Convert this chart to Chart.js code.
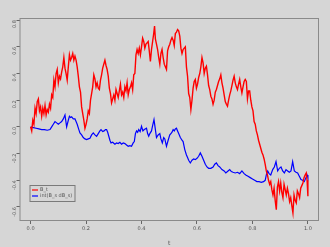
<!DOCTYPE html>
<html>
<head>
<meta charset="utf-8">
<script src="https://cdn.jsdelivr.net/npm/chart.js@4.4.1/dist/chart.umd.min.js"></script>
<style>
  html, body { margin: 0; padding: 0; background: #d6d6d6; }
  #wrap { width: 330px; height: 247px; }
</style>
</head>
<body>
<div id="wrap"><canvas id="chart" width="330" height="247"></canvas></div>
<script>
// B_t
const tRed = [0,0.004,0.008,0.012,0.016,0.02,0.024,0.028,0.032,0.036,0.04,0.044,0.048,0.052,0.056,0.06,0.064,0.068,0.072,0.076,0.08,0.084,0.088,0.092,0.096,0.1,0.104,0.108,0.112,0.116,0.12,0.124,0.128,0.132,0.136,0.14,0.144,0.148,0.152,0.156,0.16,0.164,0.168,0.172,0.176,0.18,0.184,0.188,0.192,0.196,0.2,0.204,0.208,0.212,0.216,0.22,0.224,0.228,0.232,0.236,0.24,0.244,0.248,0.252,0.256,0.26,0.264,0.268,0.272,0.276,0.28,0.284,0.288,0.292,0.296,0.3,0.304,0.308,0.312,0.316,0.32,0.324,0.328,0.332,0.336,0.34,0.344,0.348,0.352,0.356,0.36,0.364,0.368,0.372,0.376,0.38,0.384,0.388,0.392,0.396,0.4,0.404,0.408,0.412,0.416,0.42,0.424,0.428,0.432,0.436,0.44,0.444,0.447,0.45,0.454,0.458,0.462,0.466,0.47,0.474,0.478,0.482,0.486,0.49,0.494,0.498,0.502,0.506,0.51,0.514,0.518,0.522,0.526,0.53,0.534,0.538,0.542,0.546,0.55,0.554,0.558,0.562,0.566,0.57,0.574,0.578,0.582,0.586,0.59,0.594,0.598,0.602,0.606,0.61,0.614,0.618,0.622,0.626,0.63,0.634,0.638,0.642,0.646,0.65,0.654,0.658,0.662,0.666,0.67,0.674,0.678,0.682,0.686,0.69,0.694,0.698,0.702,0.706,0.71,0.714,0.718,0.722,0.726,0.73,0.734,0.738,0.742,0.746,0.75,0.754,0.758,0.762,0.766,0.77,0.774,0.778,0.782,0.786,0.79,0.794,0.798,0.802,0.806,0.81,0.814,0.818,0.822,0.826,0.83,0.834,0.838,0.842,0.846,0.85,0.854,0.858,0.862,0.866,0.87,0.874,0.878,0.882,0.886,0.89,0.894,0.898,0.902,0.906,0.91,0.914,0.918,0.922,0.926,0.93,0.934,0.938,0.942,0.946,0.95,0.954,0.958,0.962,0.966,0.97,0.974,0.978,0.982,0.986,0.99,0.994,0.997,1];
const bRed = [0,-0.03,0.05,0.02,0.14,0.1,0.19,0.21,0.12,0.15,0.08,0.14,0.1,0.16,0.09,0.13,0.11,0.17,0.14,0.24,0.22,0.35,0.3,0.4,0.43,0.33,0.38,0.36,0.41,0.45,0.52,0.44,0.4,0.35,0.45,0.54,0.5,0.52,0.55,0.5,0.53,0.5,0.45,0.38,0.3,0.26,0.15,0.1,0.05,-0.01,0.02,0.06,0.12,0.1,0.2,0.25,0.3,0.39,0.36,0.3,0.33,0.29,0.28,0.35,0.39,0.44,0.47,0.5,0.46,0.43,0.38,0.29,0.25,0.18,0.21,0.24,0.2,0.28,0.25,0.22,0.27,0.32,0.24,0.26,0.22,0.3,0.27,0.33,0.24,0.28,0.3,0.33,0.28,0.39,0.4,0.54,0.58,0.55,0.59,0.54,0.6,0.665,0.64,0.59,0.62,0.63,0.64,0.57,0.49,0.58,0.64,0.7,0.755,0.66,0.62,0.58,0.52,0.47,0.55,0.58,0.52,0.47,0.45,0.43,0.57,0.6,0.62,0.65,0.67,0.65,0.61,0.7,0.71,0.73,0.72,0.68,0.59,0.55,0.58,0.59,0.6,0.45,0.38,0.25,0.22,0.13,0.2,0.29,0.34,0.355,0.29,0.32,0.37,0.4,0.45,0.52,0.48,0.4,0.44,0.455,0.39,0.31,0.28,0.23,0.21,0.17,0.2,0.26,0.28,0.31,0.34,0.36,0.39,0.33,0.29,0.24,0.19,0.17,0.155,0.2,0.24,0.27,0.31,0.35,0.38,0.33,0.3,0.28,0.32,0.355,0.3,0.255,0.3,0.34,0.355,0.34,0.21,0.27,0.27,0.2,0.15,0.12,0.04,0.02,-0.03,-0.06,-0.1,-0.13,-0.16,-0.19,-0.21,-0.24,-0.28,-0.33,-0.36,-0.4,-0.43,-0.41,-0.47,-0.51,-0.46,-0.55,-0.62,-0.45,-0.41,-0.48,-0.42,-0.49,-0.53,-0.43,-0.47,-0.51,-0.46,-0.5,-0.56,-0.53,-0.59,-0.645,-0.51,-0.55,-0.57,-0.48,-0.5,-0.53,-0.46,-0.44,-0.42,-0.38,-0.36,-0.345,-0.4,-0.52];

// int(B_s dB_s)
const tBlue = [0,0.01,0.02,0.03,0.04,0.05,0.06,0.07,0.076,0.082,0.088,0.094,0.1,0.106,0.112,0.118,0.124,0.13,0.136,0.14,0.144,0.148,0.154,0.16,0.164,0.168,0.174,0.178,0.184,0.19,0.196,0.202,0.208,0.214,0.22,0.226,0.232,0.238,0.244,0.25,0.254,0.26,0.265,0.27,0.274,0.278,0.282,0.286,0.29,0.296,0.304,0.31,0.316,0.322,0.328,0.334,0.34,0.346,0.352,0.358,0.364,0.37,0.374,0.378,0.382,0.386,0.39,0.395,0.4,0.405,0.41,0.418,0.422,0.426,0.43,0.436,0.44,0.445,0.45,0.454,0.46,0.466,0.47,0.475,0.48,0.484,0.49,0.496,0.502,0.506,0.51,0.514,0.518,0.522,0.526,0.53,0.534,0.54,0.546,0.55,0.556,0.562,0.566,0.57,0.576,0.582,0.588,0.594,0.6,0.606,0.612,0.618,0.624,0.63,0.636,0.642,0.65,0.658,0.664,0.67,0.676,0.682,0.69,0.698,0.704,0.712,0.718,0.724,0.73,0.738,0.746,0.754,0.762,0.77,0.776,0.784,0.792,0.8,0.808,0.816,0.824,0.832,0.84,0.846,0.85,0.855,0.86,0.866,0.873,0.879,0.885,0.891,0.897,0.903,0.909,0.915,0.921,0.927,0.933,0.939,0.945,0.951,0.957,0.963,0.969,0.975,0.981,0.987,0.993,0.997,1];
const iBlue = [0,-0.005,-0.01,-0.015,-0.02,-0.02,-0.025,-0.02,0,0.02,0.04,0.03,0.02,0.03,0.04,0.06,0.09,0,0.05,0.08,0.07,0.075,0.06,0.06,0.04,0.02,-0.02,-0.045,-0.06,-0.08,-0.09,-0.095,-0.09,-0.085,-0.06,-0.045,-0.06,-0.07,-0.05,-0.03,-0.02,-0.035,-0.03,-0.02,-0.02,-0.04,-0.07,-0.1,-0.12,-0.115,-0.13,-0.12,-0.125,-0.115,-0.13,-0.12,-0.125,-0.135,-0.145,-0.14,-0.145,-0.12,-0.11,-0.05,-0.03,-0.04,-0.02,-0.035,0.005,-0.03,-0.02,-0.01,-0.05,-0.07,-0.05,-0.03,0.01,0.055,-0.02,-0.08,-0.06,-0.05,-0.09,-0.12,-0.08,-0.09,-0.145,-0.1,-0.06,-0.05,-0.04,-0.02,-0.03,-0.015,-0.01,-0.03,-0.05,-0.08,-0.1,-0.11,-0.17,-0.21,-0.23,-0.25,-0.27,-0.25,-0.24,-0.245,-0.235,-0.22,-0.195,-0.22,-0.25,-0.28,-0.3,-0.31,-0.31,-0.3,-0.28,-0.27,-0.29,-0.3,-0.32,-0.33,-0.345,-0.33,-0.32,-0.335,-0.34,-0.345,-0.34,-0.35,-0.33,-0.35,-0.36,-0.37,-0.38,-0.39,-0.4,-0.41,-0.41,-0.415,-0.41,-0.4,-0.36,-0.33,-0.35,-0.36,-0.32,-0.3,-0.26,-0.33,-0.31,-0.3,-0.33,-0.345,-0.32,-0.33,-0.34,-0.33,-0.26,-0.33,-0.34,-0.345,-0.37,-0.395,-0.4,-0.41,-0.38,-0.36,-0.38];

const xTicks = [0, 0.2, 0.4, 0.6, 0.8, 1.0];
const yTicks = [-0.6, -0.4, -0.2, 0.0, 0.2, 0.4, 0.6, 0.8];
const seriesNames = ["B_t", "int(B_s dB_s)"];
const seriesColors = ["#ff0000", "#0000ff"];

const toPoints = (ts, vs) => ts.map((t, i) => ({ x: t, y: vs[i] }));

// box around the plot region and the legend inside it
const framePlugin = {
    id: 'frame',
    afterDatasetsDraw(chart) {
        const ctx = chart.ctx;
        const a = chart.chartArea;
        ctx.save();
        ctx.strokeStyle = '#8a8a8a';
        ctx.lineWidth = 1;
        ctx.strokeRect(a.left + 0.5, a.top + 0.5, a.right - a.left - 1, a.bottom - a.top - 1);

        // legend
        const lx = a.left + 10.5, ly = a.bottom - 35.5;
        ctx.fillStyle = '#d6d6d6';
        ctx.fillRect(lx, ly, 45, 16);
        ctx.strokeStyle = '#7a7a7a';
        ctx.strokeRect(lx, ly, 45, 16);
        ctx.font = '5px "DejaVu Sans"';
        ctx.textBaseline = 'middle';
        seriesNames.forEach((name, i) => {
            const yy = ly + 4.5 + i * 6;
            ctx.strokeStyle = seriesColors[i];
            ctx.lineWidth = 1.2;
            ctx.beginPath();
            ctx.moveTo(lx + 2, yy);
            ctx.lineTo(lx + 8, yy);
            ctx.stroke();
            ctx.fillStyle = '#555';
            ctx.fillText(name, lx + 10, yy);
        });
        ctx.restore();
    }
};

new Chart(document.getElementById("chart"), {
    type: 'line',
    data: {
        datasets: [{
            label: seriesNames[0],
            data: toPoints(tRed, bRed),
            borderColor: seriesColors[0],
            borderWidth: 1.4,
            pointRadius: 0,
            tension: 0,
            fill: false
        }, {
            label: seriesNames[1],
            data: toPoints(tBlue, iBlue),
            borderColor: seriesColors[1],
            borderWidth: 1.2,
            pointRadius: 0,
            tension: 0,
            fill: false
        }]
    },
    options: {
        responsive: false,
        animation: false,
        devicePixelRatio: 1,
        layout: { padding: { top: 18, right: 11, left: 0, bottom: 0 } },
        plugins: {
            legend: { display: false },
            tooltip: { enabled: false }
        },
        scales: {
            x: {
                type: 'linear',
                min: -0.04,
                max: 1.04,
                afterBuildTicks: s => { s.ticks = xTicks.map(v => ({ value: v })); },
                afterFit: s => { s.height = 26; },
                grid: { drawOnChartArea: false, tickLength: 3, color: '#666' },
                border: { display: false },
                ticks: {
                    font: { size: 5, family: 'DejaVu Sans' },
                    color: '#555',
                    padding: 2,
                    maxRotation: 0,
                    callback: v => v.toFixed(1)
                },
                title: { display: true, text: 't', font: { size: 6, family: 'DejaVu Sans' }, color: '#555', padding: 0 }
            },
            y: {
                type: 'linear',
                min: -0.705,
                max: 0.816,
                afterBuildTicks: s => { s.ticks = yTicks.map(v => ({ value: v })); },
                afterFit: s => { s.width = 19.5; },
                grid: { drawOnChartArea: false, tickLength: 3, color: '#666' },
                border: { display: false },
                ticks: {
                    font: { size: 5, family: 'DejaVu Sans' },
                    color: '#555',
                    padding: 2,
                    minRotation: 90,
                    maxRotation: 90,
                    callback: v => v.toFixed(1)
                }
            }
        }
    },
    plugins: [framePlugin]
});
</script>
</body>
</html>
